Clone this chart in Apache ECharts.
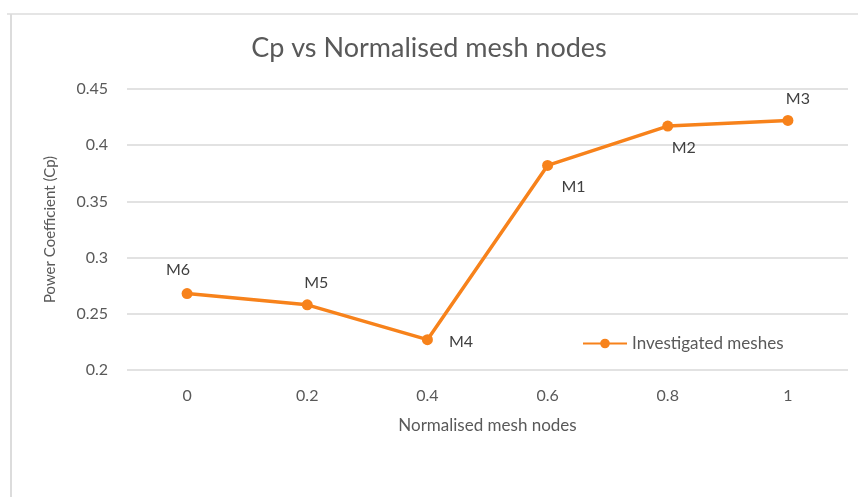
<!DOCTYPE html>
<html>
<head>
<meta charset="utf-8">
<script src="https://cdn.jsdelivr.net/npm/echarts@6/dist/echarts.min.js"></script>
<style>
  html, body { margin: 0; padding: 0; background: #fff; }
  #chart { width: 858px; height: 499px; }
</style>
</head>
<body>
<div id="chart"></div>
<script>
// values
const categories = ['0', '0.2', '0.4', '0.6', '0.8', '1']
const cpValues = [0.268, 0.258, 0.227, 0.382, 0.417, 0.422]
const meshNames = ['M6', 'M5', 'M4', 'M1', 'M2', 'M3']
const labelPlaces = ['top', 'top', 'right', 'bottom', 'bottom', 'top']
// small nudges so the point labels sit where the original puts them
const labelNudges = [[-9, -2], [9, 0], [8, 2], [26, 0], [16, 0], [10, 0]]

const orange = '#f7821b'
const textGrey = '#595959'
const font = 'Lato'

const chart = echarts.init(document.getElementById('chart'))

const seriesData = cpValues.map((v, i) => ({
  value: v,
  name: meshNames[i],
  label: { position: labelPlaces[i], offset: labelNudges[i] }
}))

chart.setOption({
  animation: false,
  textStyle: { fontFamily: font },
  title: {
    text: 'Cp vs Normalised mesh nodes',
    left: 'center',
    top: 30,
    textStyle: { fontFamily: font, fontSize: 27, fontWeight: 'normal', color: textGrey }
  },
  graphic: [
    { type: 'line', shape: { x1: 7, y1: 14, x2: 858, y2: 14 }, style: { stroke: '#dcdcdc', lineWidth: 1.5 } },
    { type: 'line', shape: { x1: 11, y1: 14, x2: 11, y2: 497 }, style: { stroke: '#dcdcdc', lineWidth: 2 } }
  ],
  legend: {
    left: 577,
    top: 330,
    itemWidth: 44,
    itemHeight: 12,
    itemGap: 4,
    textStyle: { fontFamily: font, fontSize: 17, color: textGrey },
    data: ['Investigated meshes']
  },
  grid: { left: 127, right: 10, top: 89, bottom: 129, containLabel: false },
  xAxis: {
    type: 'category',
    data: categories,
    boundaryGap: true,
    name: 'Normalised mesh nodes',
    nameLocation: 'middle',
    nameGap: 47,
    nameTextStyle: { fontFamily: font, fontSize: 17, color: textGrey },
    axisLine: { show: false },
    axisTick: { show: false },
    axisLabel: { color: textGrey, fontSize: 16, fontFamily: font, margin: 18 }
  },
  yAxis: {
    type: 'value',
    min: 0.2,
    max: 0.45,
    interval: 0.05,
    name: 'Power Coefficient (Cp)',
    nameLocation: 'middle',
    nameGap: 69,
    nameTextStyle: { fontFamily: font, fontSize: 15, color: textGrey },
    axisLabel: {
      color: textGrey, fontSize: 16, fontFamily: font, margin: 19,
      formatter: v => String(+v.toFixed(2))
    },
    splitLine: { lineStyle: { color: '#d9d9d9', width: 1.5 } }
  },
  series: [{
    name: 'Investigated meshes',
    type: 'line',
    data: seriesData,
    symbol: 'circle',
    symbolSize: 11,
    itemStyle: { color: orange },
    lineStyle: { color: orange, width: 3.5 },
    label: {
      show: true,
      formatter: p => p.name,
      fontFamily: font,
      fontSize: 16,
      color: '#404040',
      distance: 8
    }
  }]
})
</script>
</body>
</html>
